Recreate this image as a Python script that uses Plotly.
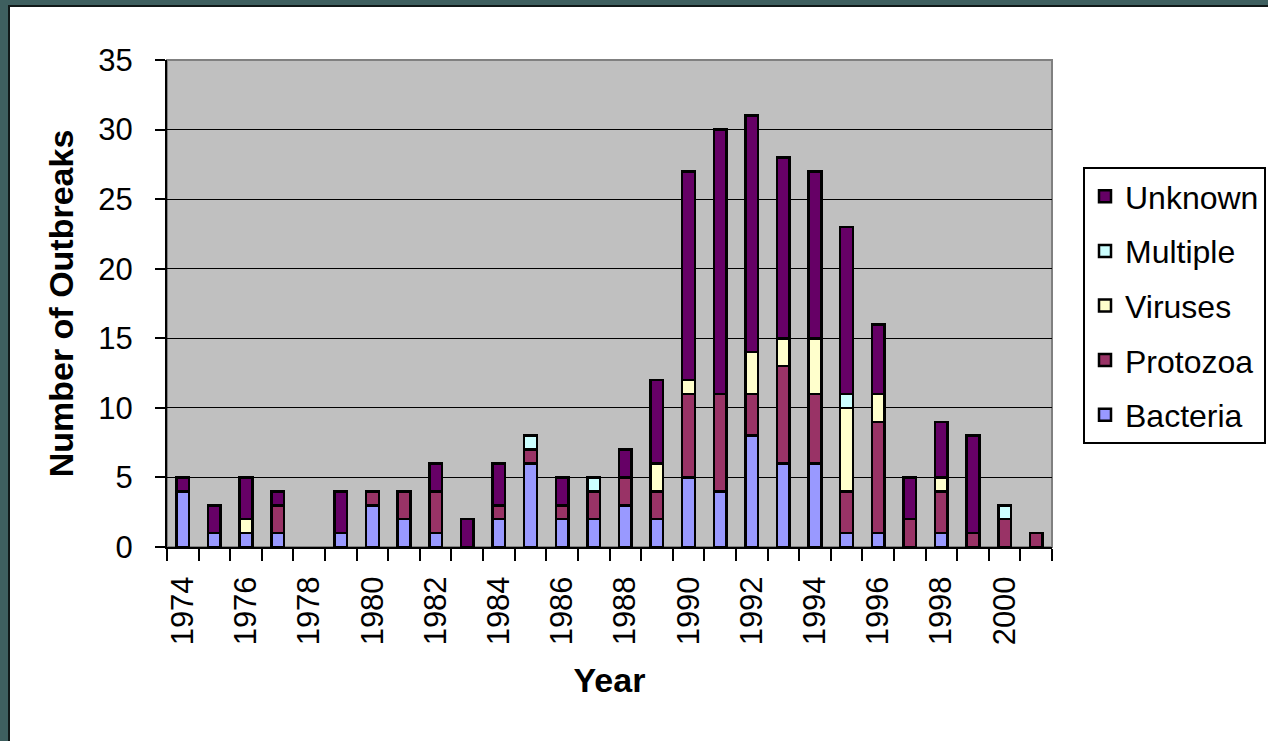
import plotly.graph_objects as go

years = [str(y) for y in range(1974, 2002)]
bacteria = [4, 1, 1, 1, 0, 1, 3, 2, 1, 0, 2, 6, 2, 2, 3, 2, 5, 4, 8, 6, 6, 1, 1, 0, 1, 0, 0, 0]
protozoa = [0, 0, 0, 2, 0, 0, 1, 2, 3, 0, 1, 1, 1, 2, 2, 2, 6, 7, 3, 7, 5, 3, 8, 2, 3, 1, 2, 1]
viruses = [0, 0, 1, 0, 0, 0, 0, 0, 0, 0, 0, 0, 0, 0, 0, 2, 1, 0, 3, 2, 4, 6, 2, 0, 1, 0, 0, 0]
multiple = [0, 0, 0, 0, 0, 0, 0, 0, 0, 0, 0, 1, 0, 1, 0, 0, 0, 0, 0, 0, 0, 1, 0, 0, 0, 0, 1, 0]
unknown = [1, 2, 3, 1, 0, 3, 0, 0, 2, 2, 3, 0, 2, 0, 2, 6, 15, 19, 17, 13, 12, 12, 5, 3, 4, 7, 0, 0]
tick_text = [y if int(y) % 2 == 0 else "" for y in years]
y_ticks = [0, 5, 10, 15, 20, 25, 30, 35]

series = [
    ("Bacteria", bacteria, "#9999FF"),
    ("Protozoa", protozoa, "#993366"),
    ("Viruses", viruses, "#FFFFCC"),
    ("Multiple", multiple, "#CCFFFF"),
    ("Unknown", unknown, "#660066"),
]

FONT = "Liberation Sans, Arial, sans-serif"

fig = go.Figure()
n = len(series)
for i, (name, vals, col) in enumerate(series):
    fig.add_trace(go.Bar(
        x=years, y=[v if v else None for v in vals], name=name,
        legendgroup=name, legendrank=n - i,
        marker=dict(color=col, line=dict(color="black", width=2.5)),
    ))

L, R, T, B = 167, 1052, 60, 547
W, H = 1268, 741
pw, ph = R - L, B - T

def px(x):
    return (x - L) / pw

def py(y):
    return (B - y) / ph

shapes = [
    # white panel
    dict(type="rect", xref="paper", yref="paper", layer="below",
         x0=px(9), x1=px(1290), y0=py(770), y1=py(6),
         fillcolor="white", line=dict(color="#101818", width=2)),
    # gray plot area
    dict(type="rect", xref="paper", yref="paper", layer="below",
         x0=0, x1=1, y0=0, y1=1,
         fillcolor="#C0C0C0", line=dict(color="#808080", width=2)),
]

fig.update_layout(
    width=W, height=H,
    margin=dict(l=L, r=W - R, t=T, b=H - B, pad=0, autoexpand=False),
    paper_bgcolor="#3E5F5F",
    plot_bgcolor="rgba(0,0,0,0)",
    barmode="stack",
    bargap=0.6,
    font=dict(family=FONT, size=31, color="black"),
    shapes=shapes,
    showlegend=True,
    legend=dict(
        x=px(1083), y=py(167), xanchor="left", yanchor="top",
        bgcolor="white", bordercolor="black", borderwidth=2,
        font=dict(family=FONT, size=32, color="black"),
        traceorder="grouped", tracegroupgap=10,
        itemwidth=30,
        entrywidth=175, entrywidthmode="pixels",
    ),
    xaxis=dict(
        type="category",
        tickmode="array", tickvals=years, ticktext=tick_text,
        tickson="boundaries",
        ticks="outside", ticklen=12, tickwidth=2, tickcolor="black",
        tickangle=-90,
        ticklabelstandoff=15,
        showline=True, linecolor="black", linewidth=2,
        showgrid=False, automargin=False,
        title=dict(text="<b>Year</b>", font=dict(family=FONT, size=34), standoff=24),
    ),
    yaxis=dict(
        range=[0, 35], tickmode="array", tickvals=y_ticks,
        ticks="outside", ticklen=10, tickwidth=2, tickcolor="black",
        ticklabelstandoff=16,
        showline=True, linecolor="black", linewidth=2,
        showgrid=True, gridcolor="black", gridwidth=1,
        zeroline=False, automargin=False,
        title=dict(text="<b>Number of Outbreaks</b>", font=dict(family=FONT, size=34), standoff=14),
    ),
)

fig.write_html("out.html")
